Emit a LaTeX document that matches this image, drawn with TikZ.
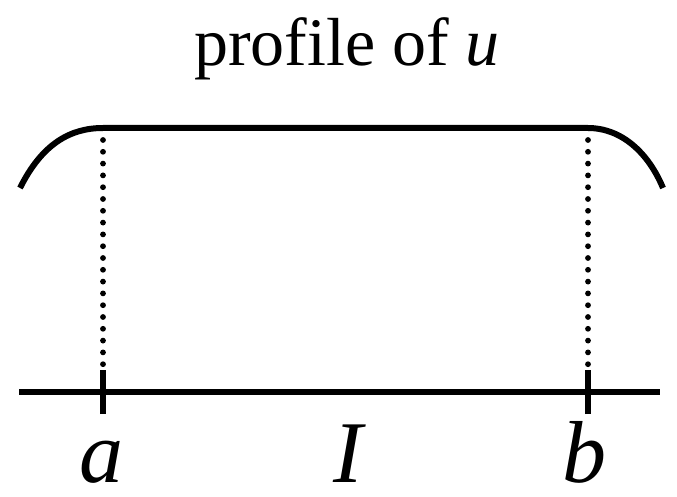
\documentclass[tikz,border=0pt]{standalone}
\usepackage{fontspec}
\setmainfont{Liberation Serif}
\usetikzlibrary{positioning}

\tikzset{
  thick line/.style={line width=6.0pt, line cap=butt},
  dot line/.style={line width=5.8pt, line cap=round, dash pattern=on 0pt off 11.8pt},
  big label/.style={anchor=base, inner sep=0pt, font=\fontsize{88}{106}\selectfont},
}

\begin{document}
\begin{tikzpicture}[x=1pt, y=-1pt, line join=round]

  %% ════ points ════
  \coordinate (uL)  at (20.0,188.0);
  \coordinate (uA)  at (103.0,128.0);
  \coordinate (uB)  at (588.0,128.0);
  \coordinate (uR)  at (663.0,188.0);
  \coordinate (axL) at (19.0,392.0);
  \coordinate (axR) at (660.0,392.0);
  \coordinate (tA)  at (103.0,392.0);
  \coordinate (tB)  at (588.0,392.0);

  %% ════ profile of u ════
  \draw[thick line] (uL) .. controls (42.0,144.0) and (70.0,128.0) .. (uA)
                    -- (uB) .. controls (621.0,128.0) and (648.0,152.0) .. (uR);

  %% ════ axis and ticks ════
  \draw[thick line] (axL) -- (axR);
  \draw[thick line] ([yshift=-22pt]tA) -- ([yshift=22pt]tA);
  \draw[thick line] ([yshift=-22pt]tB) -- ([yshift=22pt]tB);

  %% ════ dotted drops (yshift is on the page: minus = down) ════
  \draw[dot line] ([yshift=-12pt]uA) -- ([yshift=26pt]tA);
  \draw[dot line] ([yshift=-12pt]uB) -- ([yshift=26pt]tB);

  %% ════ labels ════
  \node[anchor=base, inner sep=0pt, font=\fontsize{68}{80}\selectfont] (title) at (347.0,66.0) {profile of \textit{u}};
  \node[big label] (la) at (101.0,482.0) {\textit{a}};
  \node[big label] (lI) at (350.0,482.0) {\textit{I}};
  \node[big label] (lb) at (584.0,482.0) {\textit{b}};

  \pgfresetboundingbox
  \path[use as bounding box] (0,0) rectangle (677,497);
\end{tikzpicture}
\end{document}
